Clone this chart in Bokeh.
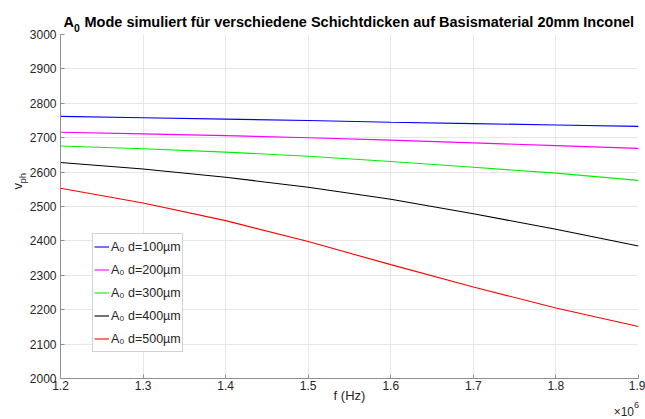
import math
from bokeh.plotting import figure
from bokeh.models import Legend, LegendItem, FixedTicker, CustomJSTickFormatter, Range1d
from bokeh.core.properties import value
from bokeh.embed import file_html
from bokeh.resources import INLINE

# Data (frequency in Hz, phase velocity in m/s)
freq = [1.2e6, 1.3e6, 1.4e6, 1.5e6, 1.6e6, 1.7e6, 1.8e6, 1.9e6]
v_d100 = [2762, 2758, 2754, 2750, 2745, 2741, 2737, 2733]
v_d200 = [2716, 2711, 2706, 2700, 2693, 2685, 2677, 2669]
v_d300 = [2676, 2668, 2658, 2646, 2631, 2614, 2597, 2576]
v_d400 = [2628, 2609, 2585, 2556, 2521, 2479, 2434, 2385]
v_d500 = [2553, 2510, 2459, 2398, 2331, 2266, 2205, 2151]
series_labels = ["A₀ d=100µm", "A₀ d=200µm", "A₀ d=300µm", "A₀ d=400µm", "A₀ d=500µm"]
series_colors = ["#0000ff", "#ff00ff", "#00f000", "#000000", "#ff0000"]
x_ticks = [1.2e6, 1.3e6, 1.4e6, 1.5e6, 1.6e6, 1.7e6, 1.8e6, 1.9e6]
y_ticks = list(range(2000, 3001, 100))
title_main = "A"
title_sub = "0"
title_rest = "Mode simuliert für verschiedene Schichtdicken auf Basismaterial 20mm Inconel"
x_label = "f (Hz)"
y_label_main = "v"
y_label_sub = "ph"
exp_main = "×10"
exp_sup = "6"

FONT = "Liberation Sans"
TXT = "#262626"
AXC = "#8f8f8f"

x0, x1 = 1.2e6, 1.9e6
y0, y1 = 2000, 3000

p = figure(width=645, height=419, output_backend="svg", toolbar_location=None,
           x_range=Range1d(x0, x1), y_range=Range1d(y0, y1),
           min_border_left=60, min_border_right=7, min_border_top=34, min_border_bottom=41)
p.outline_line_color = None
p.background_fill_color = "white"
p.border_fill_color = "white"

all_series = [v_d100, v_d200, v_d300, v_d400, v_d500]
items = []
for vals, lab, col in zip(all_series, series_labels, series_colors):
    r = p.line(freq, vals, line_color=col, line_width=1.1)
    items.append(LegendItem(label=lab, renderers=[r]))

for ax in (p.xaxis[0], p.yaxis[0]):
    ax.axis_line_color = AXC
    ax.major_tick_line_color = AXC
    ax.major_tick_in = 4
    ax.major_tick_out = 0
    ax.minor_tick_line_color = None
    ax.major_label_text_font = FONT
    ax.major_label_text_font_size = "12px"
    ax.major_label_text_color = TXT
    ax.axis_label_text_font = FONT
    ax.axis_label_text_font_size = "13px"
    ax.axis_label_text_font_style = "normal"
    ax.axis_label_text_color = TXT

p.xaxis.ticker = FixedTicker(ticks=x_ticks)
p.yaxis.ticker = FixedTicker(ticks=y_ticks)
p.xaxis.formatter = CustomJSTickFormatter(code="return (tick/1e6).toFixed(1);")
p.xaxis.axis_label = x_label
p.xaxis.major_label_standoff = 2
p.yaxis.major_label_standoff = 4
p.xaxis.axis_label_standoff = -5

p.xgrid.ticker = FixedTicker(ticks=x_ticks)
p.ygrid.ticker = FixedTicker(ticks=y_ticks)
p.grid.grid_line_color = "#e6e6e6"
p.grid.grid_line_width = 1

legend = Legend(items=items, location=(32, 26))
legend.label_text_font = FONT
legend.label_text_font_size = "12.5px"
legend.label_text_color = TXT
legend.glyph_width = 15
legend.glyph_height = 15
legend.label_height = 23
legend.label_standoff = 2
legend.spacing = 0
legend.padding = 1
legend.margin = 0
legend.border_line_color = "#a6a6a6"
legend.border_line_width = 1
legend.background_fill_color = "white"
legend.background_fill_alpha = 1
p.add_layout(legend)

# Texts with sub/superscripts, drawn outside the frame (overlay level, not clipped)
def txt(x, y, s, xo, yo, size, style="normal", align="left", angle=0.0):
    p.text(x=[x], y=[y], text=[s], x_offset=xo, y_offset=yo, angle=angle,
           text_font=value(FONT), text_font_size=value(size), text_font_style=style,
           text_color="#000000" if style == "bold" else TXT,
           text_align=align, text_baseline="alphabetic", level="overlay")

# title
txt(x0, y1, title_main, 3, -13, "14.5px", "bold")
txt(x0, y1, title_sub, 13.5, -7, "10.5px", "bold")
txt(x0, y1, title_rest, 24, -13, "14.5px", "bold")
# y label (rotated)
ymid = (y0 + y1) / 2
txt(x0, ymid, y_label_main, -43, -17, "13px", angle=math.pi / 2)
txt(x0, ymid, y_label_sub, -38, -23, "9.5px", angle=math.pi / 2)
# exponent
txt(x1, y0, exp_main, -4.5, 33, "12px", align="right")
txt(x1, y0, exp_sup, -4.5, 26, "9px")

open("out.html", "w").write(file_html(p, INLINE))
